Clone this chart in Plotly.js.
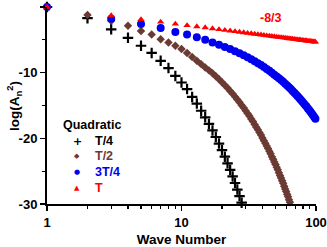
<!DOCTYPE html>
<html><head><meta charset="utf-8">
<script src="https://cdn.plot.ly/plotly-3.0.1.min.js"></script>
<style>html,body{margin:0;padding:0;background:#fff}#chart{width:327px;height:247px}</style>
</head><body><div id="chart"></div>
<script>
// Wave numbers
const nAll28 = [1,2,3,4,5,6,7,8,9,10,11,12,13,14,15,16,17,18,19,20,21,22,23,24,25,26,27,28];
const nAll64 = [1,2,3,4,5,6,7,8,9,10,11,12,13,14,15,16,17,18,19,20,21,22,23,24,25,26,27,28,29,30,31,32,
  33,34,35,36,37,38,39,40,41,42,43,44,45,46,47,48,49,50,51,52,53,54,55,56,57,58,59,60,61,62,63,64];
const nOdd = [1,3,5,7,9,11,13,15,17,19,21,23,25,27,29,31,33,35,37,39,41,43,45,47,49,
  51,53,55,57,59,61,63,65,67,69,71,73,75,77,79,81,83,85,87,89,91,93,95,97,99];

// log(An^2) values
const yT4 = [0,-1.7,-3.4,-4.7,-5.9,-7.0,-8.2,-9.3,-10.5,-11.5,-12.5,-13.7,-14.7,-15.8,-16.8,-17.8,
  -18.8,-19.8,-20.8,-21.8,-22.8,-23.8,-24.8,-25.8,-26.8,-27.8,-28.8,-29.8];
const yT2 = [0,-1.2,-2.1,-2.85,-3.65,-4.2,-4.9,-5.4,-5.9,-6.4,-7.0,-7.6,-8.2,-8.7,-9.2,-9.65,-10.1,
  -10.55,-11.0,-11.45,-11.9,-12.35,-12.8,-13.2,-13.65,-14.1,-14.5,-14.95,-15.35,-15.8,-16.2,-16.6,
  -17.05,-17.45,-17.9,-18.3,-18.7,-19.1,-19.5,-19.95,-20.35,-20.75,-21.15,-21.55,-21.95,-22.35,-22.8,
  -23.2,-23.6,-24.0,-24.4,-24.8,-25.25,-25.65,-26.05,-26.45,-26.85,-27.3,-27.7,-28.1,-28.5,-28.9,-29.35,-29.75];
const y3T4 = [0,-1.8,-2.6,-3.2,-3.8,-4.2,-4.6,-5.0,-5.4,-5.75,-6.1,-6.4,-6.75,-7.05,-7.35,-7.65,-7.94,
  -8.25,-8.55,-8.84,-9.14,-9.43,-9.72,-10.0,-10.3,-10.57,-10.85,-11.13,-11.4,-11.68,-11.96,-12.23,-12.5,
  -12.78,-13.04,-13.32,-13.58,-13.85,-14.12,-14.38,-14.65,-14.91,-15.17,-15.44,-15.7,-15.96,-16.22,
  -16.48,-16.75,-17.0];
const yT = [0,-1.3,-1.9,-2.28,-2.57,-2.8,-2.98,-3.14,-3.28,-3.41,-3.53,-3.63,-3.73,-3.82,-3.9,-3.98,
  -4.05,-4.12,-4.18,-4.24,-4.3,-4.36,-4.41,-4.46,-4.51,-4.55,-4.6,-4.64,-4.68,-4.72,-4.76,-4.8,-4.83,
  -4.87,-4.9,-4.94,-4.97,-5.0,-5.03,-5.06,-5.09,-5.12,-5.14,-5.17,-5.2,-5.22,-5.25,-5.27,-5.3,-5.32];

const yTickVals = [0,-10,-20,-30];
const yTickText = ['0','-10','-20','-30'];
const xTickVals = [1,10,100];
const xTickText = ['1','10','100'];
const seriesNames = ['T/4','T/2','3T/4','T'];
const legendTitle = 'Quadratic';
const slopeLabel = '-8/3';
const yTitle = 'log(A<sub>n</sub><sup>2</sup>)';
const xTitle = 'Wave Number';

const cBlack = '#000000', cBrown = '#6b3a33', cBlue = '#0000ee', cRed = '#ff0000';
const FONT = 'Liberation Sans, Arial, sans-serif';

const traces = [
  {x: nAll28, y: yT4, mode: 'markers', name: seriesNames[0], cliponaxis: false,
   marker: {symbol: 'cross-thin', size: 7.5, line: {width: 2.2, color: cBlack}, color: cBlack}},
  {x: nAll64, y: yT2, mode: 'markers', name: seriesNames[1], cliponaxis: false,
   marker: {symbol: 'diamond', size: 6.5, color: cBrown}},
  {x: nOdd, y: y3T4, mode: 'markers', name: seriesNames[2], cliponaxis: false,
   marker: {symbol: 'circle', size: 8, color: cBlue}},
  {x: nOdd, y: yT, mode: 'markers', name: seriesNames[3], cliponaxis: false,
   marker: {symbol: 'triangle-up', size: 6.5, color: cRed}}
];

// legend drawn with annotations (pixel positions converted to paper fractions)
const L = 47, R = 316, T = 7, B = 204;
const px = v => (v - L) / (R - L);
const py = v => (B - v) / (B - T);
const legSym = ['+','◆','●','▲'];
const legCol = [cBlack, cBrown, cBlue, cRed];
const legY = [141, 155.5, 171.5, 187.5];
const legSymSize = [11, 7, 7, 7];
const ann = [];
ann.push({xref:'paper', yref:'paper', x: px(91.5), y: py(125), text: legendTitle, showarrow:false,
  xanchor:'center', yanchor:'middle', font:{family:FONT, size:12.5, weight:'bold', color:'#000'}});
for (let i = 0; i < 4; i++) {
  ann.push({xref:'paper', yref:'paper', x: px(77), y: py(legY[i]), text: legSym[i], showarrow:false,
    xanchor:'center', yanchor:'middle', font:{family:'DejaVu Sans', size:legSymSize[i], weight:'bold', color:legCol[i]}});
  ann.push({xref:'paper', yref:'paper', x: px(93), y: py(legY[i]), text: seriesNames[i], showarrow:false,
    xanchor:'left', yanchor:'middle', font:{family:FONT, size:12.5, weight:'bold', color:legCol[i]}});
}
ann.push({xref:'paper', yref:'paper', x: px(271), y: py(18), text: slopeLabel, showarrow:false,
  xanchor:'center', yanchor:'middle', font:{family:FONT, size:12.5, weight:'bold', color:cRed}});
// y axis title placed as rotated text
ann.push({xref:'paper', yref:'paper', x: px(14), y: py(106), text: yTitle, showarrow:false, textangle: -90,
  xanchor:'center', yanchor:'middle', font:{family:FONT, size:13.5, weight:'bold', color:'#000'}});

const layout = {
  width: 327, height: 247,
  margin: {l: L, r: 327 - R, t: T, b: 247 - B, pad: 0},
  paper_bgcolor: '#fff', plot_bgcolor: '#fff',
  showlegend: false,
  font: {family: FONT, size: 13, color: '#000'},
  xaxis: {
    type: 'log', range: [0, 2], showgrid: false, zeroline: false,
    showline: true, linecolor: '#000', linewidth: 2,
    ticks: 'outside', ticklen: 5, tickwidth: 1.5, tickcolor: '#000',
    tickmode: 'array', tickvals: xTickVals, ticktext: xTickText,
    tickfont: {family: FONT, size: 13, weight: 'bold'},
    minor: {ticks: 'outside', ticklen: 3, tickwidth: 1.2, tickcolor: '#000',
            tickvals: [2,3,4,5,6,7,8,9,20,30,40,50,60,70,80,90], showgrid: false},
    title: {text: xTitle, font: {family: FONT, size: 13.5, weight: 'bold'}, standoff: 7}
  },
  yaxis: {
    range: [-30, 0], showgrid: false, zeroline: false,
    showline: true, linecolor: '#000', linewidth: 2,
    ticks: 'outside', ticklen: 5, tickwidth: 1.5, tickcolor: '#000',
    tickmode: 'array', tickvals: yTickVals, ticktext: yTickText,
    tickfont: {family: FONT, size: 13, weight: 'bold'},
    minor: {ticks: 'outside', ticklen: 3, tickwidth: 1.2, tickcolor: '#000', dtick: 5, showgrid: false}
  },
  annotations: ann
};

Plotly.newPlot('chart', traces, layout, {staticPlot: true, displayModeBar: false});
</script>
</body></html>
